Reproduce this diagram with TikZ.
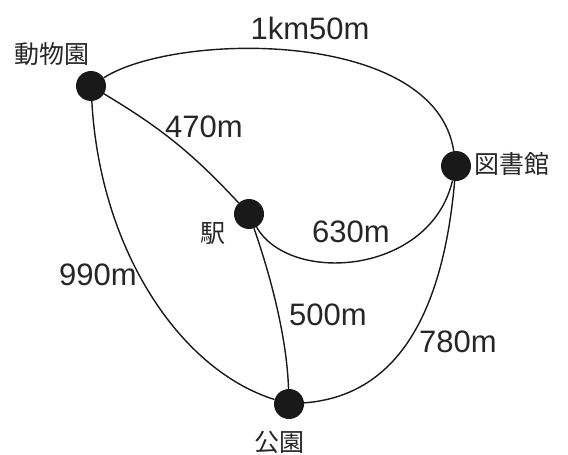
\documentclass[tikz,border=0pt]{standalone}
\usepackage{fontspec}
\setmainfont{Liberation Sans}
\newfontfamily\jpfont{Noto Sans CJK JP}
\begin{document}
\begin{tikzpicture}[x=1pt,y=-1pt]
  \tikzstyle{vertex}=[circle,fill=black!90,minimum size=30pt,inner sep=0pt]
  \tikzstyle{place}=[font=\jpfont\fontsize{25}{25}\selectfont,text=black!85,inner sep=0pt]
  \tikzstyle{dist}=[font=\fontsize{31}{31}\selectfont,text=black!85,inner sep=0pt]
  \tikzstyle{road}=[line width=1.4pt,draw=black!90]
  \useasboundingbox (0,0) rectangle (568,455);
  % places
  \node[vertex] (zoo) at (91,86){};
  \node[vertex] (lib) at (456,166){};
  \node[vertex] (sta) at (249,214){};
  \node[vertex] (park) at (289,404){};
  \node[place] (zool) at (52,54){動物園};
  \node[place] (libl) at (512,164){図書館};
  \node[place] (stal) at (213,234){駅};
  \node[place] (parkl) at (279,442){公園};
  % roads
  \draw[road] (zoo) .. controls (175,32) and (435,28) .. (lib);
  \draw[road] (zoo) to[bend left=8] (sta);
  \draw[road] (zoo) .. controls (100,250) and (180,370) .. (park);
  \draw[road] (sta) .. controls (272,280) and (287,340) .. (park);
  \draw[road] (sta) .. controls (290,285) and (430,275) .. (lib);
  \draw[road] (park) .. controls (410,395) and (445,290) .. (lib);
  % distances
  \node[dist] (d1) at (310,28){1km50m};
  \node[dist] (d2) at (204,127){470m};
  \node[dist] (d3) at (351,232){630m};
  \node[dist] (d4) at (98,275){990m};
  \node[dist] (d5) at (328,315){500m};
  \node[dist] (d6) at (458,342){780m};
\end{tikzpicture}
\end{document}
